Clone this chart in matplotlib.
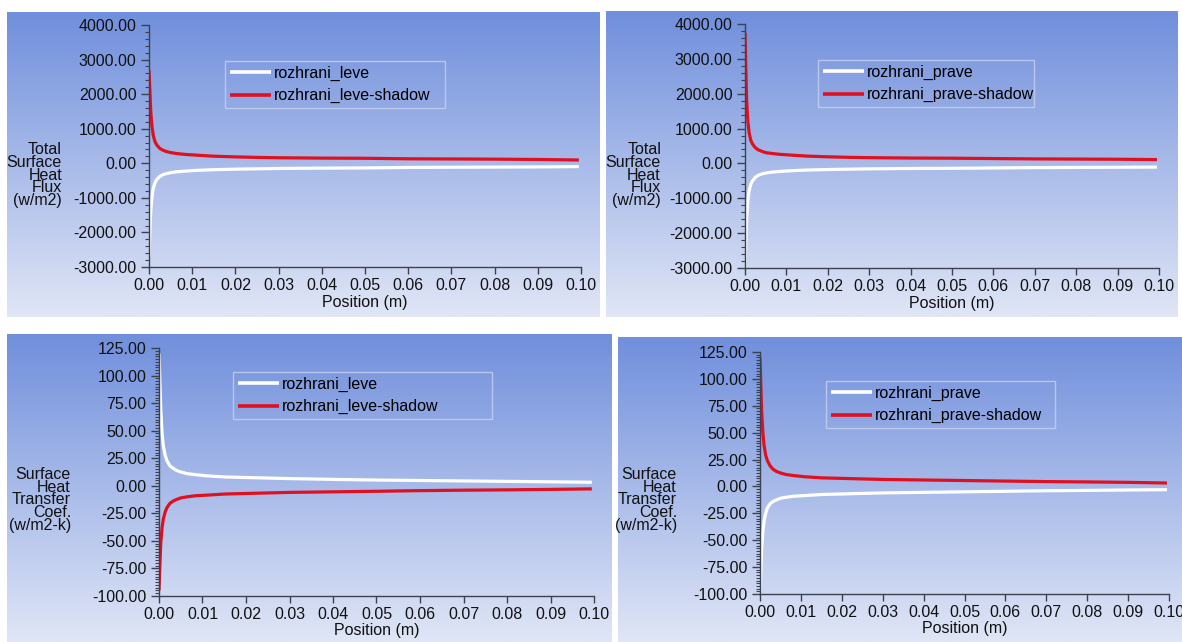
import numpy as np
import matplotlib.pyplot as plt
from matplotlib.ticker import FormatStrFormatter, MultipleLocator, AutoMinorLocator

# Data
pos = [0.0, 0.0002, 0.0004, 0.0007, 0.001, 0.0014, 0.0018, 0.0025, 0.0032, 0.004,
       0.005, 0.0065, 0.0085, 0.011, 0.015, 0.02, 0.025, 0.03, 0.04, 0.05,
       0.06, 0.07, 0.08, 0.09, 0.0995]

flux_leve = [-2700, -2000, -1400, -950, -720, -560, -470, -380, -330, -300,
             -270, -245, -225, -205, -185, -170, -160, -150, -140, -135,
             -120, -115, -110, -105, -95]
flux_leve_shadow = [2700, 2100, 1500, 1050, 800, 620, 530, 430, 380, 340,
                    310, 280, 255, 235, 205, 185, 170, 160, 150, 145,
                    130, 125, 120, 110, 95]

flux_prave = [-3000, -2300, -1600, -1050, -780, -600, -500, -400, -340, -305,
              -275, -250, -230, -210, -190, -175, -165, -155, -145, -140,
              -130, -120, -115, -110, -105]
flux_prave_shadow = [3750, 2700, 1800, 1200, 880, 660, 560, 450, 390, 350,
                     310, 285, 260, 240, 210, 190, 175, 165, 155, 150,
                     140, 130, 125, 120, 110]

htc_leve = [120, 95, 70, 48, 36, 28, 23, 18, 16, 14,
            12.5, 11, 10, 9, 8, 7.5, 7, 6.5, 5.8, 5.2,
            4.8, 4.4, 4.0, 3.6, 3.2]
htc_leve_shadow = [-95, -72, -52, -38, -30, -24, -20, -16, -14, -12.5,
                   -11, -10, -9, -8.5, -7.5, -7, -6.5, -6, -5.5, -5,
                   -4.4, -4.0, -3.7, -3.3, -2.8]

htc_prave = [-100, -80, -58, -42, -32, -25, -20, -16, -14, -12.5,
             -11, -10, -9, -8.5, -7.5, -7, -6.5, -6, -5.5, -5,
             -4.5, -4.0, -3.7, -3.3, -3.0]
htc_prave_shadow = [120, 95, 70, 50, 38, 29, 24, 19, 16, 14,
                    12.5, 11, 10, 9, 8, 7.5, 7, 6.5, 6, 5.5,
                    5, 4.5, 4.2, 3.8, 3.2]

W, H = 1182, 642
plt.rcParams['font.family'] = ['Liberation Sans', 'DejaVu Sans']
plt.rcParams['font.size'] = 11

fig = plt.figure(figsize=(W / 100, H / 100), dpi=100)


def rect(l, t, r, b):
    return [l / W, 1 - b / H, (r - l) / W, (b - t) / H]


top_c = np.array([112, 143, 220]) / 255
bot_c = np.array([224, 230, 246]) / 255
grad = np.linspace(0, 1, 256)[:, None, None]
grad_img = top_c * (1 - grad) + bot_c * grad

panels = [
    # background, axes, ylim, step, ylabel, ylabel pos, legend box, series
    dict(bg=(7, 12, 600, 317), ax=(149, 25, 581, 267), ylim=(-3000, 4000), step=1000, minor=5,
         ylabel='Total\nSurface\nHeat\nFlux\n(w/m2)', ylpos=(62, 175), leg=(225, 61, 445, 107),
         series=[(flux_leve, 'rozhrani_leve', 'white'),
                 (flux_leve_shadow, 'rozhrani_leve-shadow', '#e01020')]),
    dict(bg=(606, 11, 1178, 317), ax=(745, 24, 1159, 268), ylim=(-3000, 4000), step=1000, minor=5,
         ylabel='Total\nSurface\nHeat\nFlux\n(w/m2)', ylpos=(661, 175), leg=(818, 60, 1034, 107),
         series=[(flux_prave, 'rozhrani_prave', 'white'),
                 (flux_prave_shadow, 'rozhrani_prave-shadow', '#e01020')]),
    dict(bg=(7, 334, 612, 642), ax=(159, 348, 594, 596), ylim=(-100, 125), step=25, minor=10,
         ylabel='Surface\nHeat\nTransfer\nCoef.\n(w/m2-k)', ylpos=(71, 500), leg=(233, 372, 492, 426),
         series=[(htc_leve, 'rozhrani_leve', 'white'),
                 (htc_leve_shadow, 'rozhrani_leve-shadow', '#e01020')]),
    dict(bg=(618, 337, 1182, 642), ax=(760, 352, 1169, 594), ylim=(-100, 125), step=25, minor=10,
         ylabel='Surface\nHeat\nTransfer\nCoef.\n(w/m2-k)', ylpos=(677, 500), leg=(826, 381, 1055, 432),
         series=[(htc_prave, 'rozhrani_prave', 'white'),
                 (htc_prave_shadow, 'rozhrani_prave-shadow', '#e01020')]),
]

for p in panels:
    bg = fig.add_axes(rect(*p['bg']), zorder=0)
    bg.imshow(grad_img, aspect='auto', extent=(0, 1, 0, 1), interpolation='bilinear')
    bg.axis('off')

    ax = fig.add_axes(rect(*p['ax']), zorder=1)
    ax.set_facecolor('none')
    for vals, lab, col in p['series']:
        ax.plot(pos, vals, color=col, lw=2.3, label=lab, solid_capstyle='butt')

    ax.set_xlim(0, 0.1)
    ax.set_ylim(*p['ylim'])
    ax.xaxis.set_major_locator(MultipleLocator(0.01))
    ax.yaxis.set_major_locator(MultipleLocator(p['step']))
    ax.yaxis.set_minor_locator(AutoMinorLocator(p['minor']))
    ax.xaxis.set_major_formatter(FormatStrFormatter('%.2f'))
    ax.yaxis.set_major_formatter(FormatStrFormatter('%.2f'))
    for s in ['top', 'right']:
        ax.spines[s].set_visible(False)
    for s in ['left', 'bottom']:
        ax.spines[s].set_color('#3a4250')
        ax.spines[s].set_linewidth(1.0)
    ax.tick_params(axis='y', which='major', length=6, width=1, color='#3a4250',
                   labelsize=11.5, labelcolor='#111111', pad=3)
    ax.tick_params(axis='y', which='minor', length=3, width=0.8, color='#3a4250')
    ax.tick_params(axis='x', which='major', length=5, width=1, color='#3a4250',
                   labelsize=11.5, labelcolor='#111111', pad=3)
    ax.set_xlabel('Position (m)', fontsize=11.5, color='#111111', labelpad=1)

    fig.text(p['ylpos'][0] / W, 1 - p['ylpos'][1] / H, p['ylabel'], ha='right', va='center',
             multialignment='right', fontsize=11.5, color='#111111', linespacing=0.82)

    l, t, r, b = p['leg']
    leg = ax.legend(loc='upper left', bbox_to_anchor=(l / W, 1 - b / H, (r - l) / W, (b - t) / H),
                    bbox_transform=fig.transFigure, mode='expand', borderaxespad=0,
                    fontsize=11.5, handlelength=2.6, handletextpad=0.15, labelspacing=0.45,
                    borderpad=0.3, fancybox=False, frameon=True)
    fr = leg.get_frame()
    fr.set_facecolor('none')
    fr.set_edgecolor('#c8d2f0')
    fr.set_linewidth(1.0)
    for ln in leg.get_lines():
        ln.set_linewidth(2.6)

fig.savefig('out.png', dpi=100)
